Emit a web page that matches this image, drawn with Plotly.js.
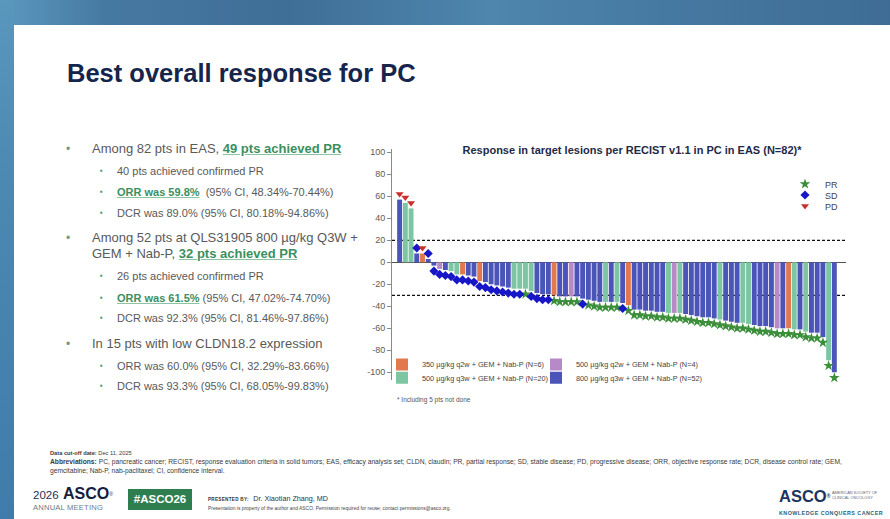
<!DOCTYPE html>
<html>
<head>
<meta charset="utf-8">
<script src="https://cdn.plot.ly/plotly-3.0.1.min.js"></script>
<style>
  html, body { margin:0; padding:0; }
  body { width:890px; height:519px; overflow:hidden; background:#ffffff; position:relative;
         font-family:"Liberation Sans", Arial, sans-serif; }
  .abs { position:absolute; white-space:nowrap; }
  .topband { position:absolute; left:0; top:0; width:890px; height:25px;
     background:linear-gradient(90deg,#5b98bf 0%,#4679a2 12%,#3f6e96 32%,#4e86ad 55%,#4679a1 75%,#3e6c94 100%); }
  .leftband { position:absolute; left:0; top:0; width:14px; height:519px;
     background:linear-gradient(180deg,#5a97bd 0%,#4a87b1 40%,#3f7cab 100%); }
  .main { font-size:13px; line-height:16px; color:#595959; }
  .sub { font-size:11px; line-height:14px; color:#595959; }
  .g { color:#3b8f5e; font-weight:bold; text-decoration:underline; text-decoration-color:#8cc4a3; }
  .bul { color:#6f9c80; font-size:12px; }
  .sbul { color:#4d9a6b; font-size:8px; }
  .foot { font-size:6.7px; line-height:9px; color:#3a3a3a; }
</style>
</head>
<body>
<div class="topband"></div>
<div class="leftband"></div>

<div class="abs" style="left:67px; top:58px; font-size:25.5px; line-height:30px; font-weight:bold; color:#15254b;">Best overall response for PC</div>

<div id="bullets"></div>

<div id="chart" style="position:absolute; left:340px; top:135px; width:520px; height:280px;"></div>

<div class="abs" style="left:397px; top:396px; font-size:6.5px; color:#555;">* Including 5 pts not done</div>

<div class="abs" style="left:50px; top:449px; font-size:5.7px; line-height:9px; color:#3a3a3a;"><b>Data cut-off date:</b> Dec 11, 2025</div>
<div class="abs foot" style="left:50px; top:457px;"><b>Abbreviations:</b> PC, pancreatic cancer; RECIST, response evaluation criteria in solid tumors; EAS, efficacy analysis set; CLDN, claudin; PR, partial response; SD, stable disease; PD, progressive disease; ORR, objective response rate; DCR, disease control rate; GEM,<br>gemcitabine; Nab-P, nab-paclitaxel; CI, confidence interval.</div>

<div class="abs" style="left:33px; top:485px; line-height:18px; color:#1d2f55;"><span style="font-size:11.5px;">2026</span> <span style="font-size:16px; font-weight:bold; color:#14213d;">ASCO</span><span style="font-size:5px; vertical-align:top;">®</span></div>
<div class="abs" style="left:33px; top:503px; font-size:7.6px; line-height:9px; color:#6c7a88; letter-spacing:0.2px;">ANNUAL MEETING</div>
<div class="abs" style="left:128px; top:489px; width:64px; height:21px; background:#2f7e50; color:#fff; font-weight:bold; font-size:11.5px; line-height:21px; text-align:center;">#ASCO26</div>
<div class="abs" style="left:208px; top:491px; line-height:10px; color:#333;"><span style="font-size:4.6px; font-weight:bold; letter-spacing:0.3px;">PRESENTED BY:</span> <span style="font-size:7.2px;">Dr. Xiaotian Zhang, MD</span></div>
<div class="abs" style="left:208px; top:505px; font-size:4.9px; line-height:8px; color:#444;">Presentation is property of the author and ASCO. Permission required for reuse; contact permissions@asco.org.</div>

<div class="abs" style="left:779px; top:486px; font-size:16.5px; line-height:20px; font-weight:bold; color:#1b3560;">ASCO<span style="font-size:5px; vertical-align:top;">®</span></div>
<div class="abs" style="left:832px; top:490px; font-size:3.9px; line-height:5px; color:#667;">AMERICAN SOCIETY OF<br>CLINICAL ONCOLOGY</div>
<div class="abs" style="left:779px; top:509px; font-size:5.4px; line-height:8px; font-weight:bold; letter-spacing:0.45px; color:#2a5f7d;">KNOWLEDGE CONQUERS CANCER</div>

<script>
// ---------------- slide bullet text ----------------
var bulletLines = [
  {y:149,   lvl:0, html:'Among 82 pts in EAS, <span class="g">49 pts achieved PR</span>'},
  {y:170.7, lvl:1, html:'40 pts achieved confirmed PR'},
  {y:191.7, lvl:1, html:'<span class="g">ORR was 59.8%</span>&nbsp; (95% CI, 48.34%-70.44%)'},
  {y:213.3, lvl:1, html:'DCR was 89.0% (95% CI, 80.18%-94.86%)'},
  {y:238.3, lvl:0, html:'Among 52 pts at QLS31905 800 µg/kg Q3W +'},
  {y:254.3, lvl:2, html:'GEM + Nab-P, <span class="g">32 pts achieved PR</span>'},
  {y:276,   lvl:1, html:'26 pts achieved confirmed PR'},
  {y:297.7, lvl:1, html:'<span class="g">ORR was 61.5%</span> (95% CI, 47.02%-74.70%)'},
  {y:317.7, lvl:1, html:'DCR was 92.3% (95% CI, 81.46%-97.86%)'},
  {y:344,   lvl:0, html:'In 15 pts with low CLDN18.2 expression'},
  {y:365.7, lvl:1, html:'ORR was 60.0% (95% CI, 32.29%-83.66%)'},
  {y:385.7, lvl:1, html:'DCR was 93.3% (95% CI, 68.05%-99.83%)'}
];
var bh = '';
bulletLines.forEach(function(l){
  if (l.lvl === 1) {
    bh += '<div class="abs sbul" style="left:100px; top:' + (l.y-7) + 'px; line-height:14px;">&#9642;</div>';
    bh += '<div class="abs sub" style="left:117px; top:' + (l.y-7) + 'px;">' + l.html + '</div>';
  } else {
    if (l.lvl === 0) bh += '<div class="abs bul" style="left:66px; top:' + (l.y-8) + 'px; line-height:16px;">&#8226;</div>';
    bh += '<div class="abs main" style="left:92px; top:' + (l.y-8) + 'px;">' + l.html + '</div>';
  }
});
document.getElementById('bullets').innerHTML = bh;

// ---------------- chart data ----------------
// best % change from baseline in target lesions, per patient (sorted)
var changePct = [57, 54, 49, 8, 8, 3, -3, -6, -7, -8,
                 -11, -11, -12, -13, -17, -18, -20, -21, -22, -23,
                 -24, -24, -24, -26, -28, -29, -29, -30, -31, -31,
                 -31, -31, -33, -34, -35, -36, -36, -36, -36, -37,
                 -39, -43, -43, -44, -44, -45, -45, -46, -46, -46,
                 -47, -48, -49, -50, -50, -51, -52, -53, -54, -55,
                 -55, -56, -57, -58, -58, -59, -60, -60, -60, -61,
                 -61, -63, -64, -64, -68, -89, -100];
// dose group per patient: O=350 q2w, P=500 q2w, G=500 q3w, B=800 q3w
var doseGroup = ['B','G','G','B','O','B','B','P','B','G',
                 'G','O','B','B','O','B','B','B','B','B',
                 'G','G','G','G','B','B','B','O','B','B',
                 'P','B','B','B','B','B','G','B','G','B',
                 'O','B','B','B','B','B','B','G','P','G',
                 'B','B','B','B','B','B','G','B','B','B',
                 'G','G','B','B','B','B','P','B','O','G',
                 'B','G','B','B','B','G','B'];
// best overall response per patient
var bestResponse = ['PD','PD','PD','SD','PD','SD','SD','SD','SD','SD',
                    'SD','SD','SD','SD','SD','SD','SD','SD','SD','SD',
                    'SD','SD','PR','SD','SD','SD','SD','PR','PR','PR',
                    'PR','PR','SD','PR','PR','PR','PR','PR','PR','SD',
                    'PR','PR','PR','PR','PR','PR','PR','PR','PR','PR',
                    'PR','PR','PR','PR','PR','PR','PR','PR','PR','PR',
                    'PR','PR','PR','PR','PR','PR','PR','PR','PR','PR',
                    'PR','PR','PR','PR','PR','PR','PR'];

var groupKeys   = ['O','P','G','B'];
var groupNames  = ['350 µg/kg q2w + GEM + Nab-P (N=6)', '500 µg/kg q2w + GEM + Nab-P (N=4)',
                   '500 µg/kg q3w + GEM + Nab-P (N=20)', '800 µg/kg q3w + GEM + Nab-P (N=52)'];
var groupColors = ['#e2784e', '#b889c7', '#7cc6a4', '#4b55b9'];

var respKeys    = ['PR', 'SD', 'PD'];
var respSymbols = ['star', 'diamond', 'triangle-down'];
var respColors  = ['#3c8f3a', '#1717c8', '#c9302c'];
var respSizes   = [8, 7, 7];
var markerOffset = 5; // marker drawn just beyond end of bar

var patientIdx = changePct.map(function(v,i){ return i+1; });

// page geometry of the chart
var W = 520, H = 280, ML = 52, MR = 14, MT = 14, MB = 35;
var DIVX = 340, DIVY = 135;
var plotW = W - ML - MR, plotH = H - MT - MB;
function px2xp(px){ return (px - (DIVX + ML)) / plotW; }
function py2yp(py){ return ((DIVY + MT + plotH) - py) / plotH; }

// one single-entry legend per key, placed where the reference has it
// (symbol centre in page px; plotly puts symbol 20px right of the legend's left edge, 14.5px below its top)
var groupLegendPos = [[402, 364.5], [556, 364.5], [402, 377.7], [556, 377.7]];
var respLegendPos  = [[805, 184], [805, 195], [805, 206]];
var groupLegendIds = ['legend4', 'legend5', 'legend6', 'legend7'];
var respLegendIds  = ['legend', 'legend2', 'legend3'];

var traces = [];
groupKeys.forEach(function(g, k){
  var xs = [], ys = [];
  patientIdx.forEach(function(p, i){ if (doseGroup[i] === g) { xs.push(p); ys.push(changePct[i]); } });
  traces.push({
    type:'bar', x:xs, y:ys, width:0.86, name:groupNames[k],
    marker:{color:groupColors[k], line:{width:0}},
    legend:groupLegendIds[k], hoverinfo:'x+y'
  });
});
respKeys.forEach(function(r, k){
  var xs = [], ys = [];
  patientIdx.forEach(function(p, i){
    if (bestResponse[i] === r) {
      xs.push(p);
      ys.push(changePct[i] >= 0 ? changePct[i] + markerOffset : changePct[i] - markerOffset);
    }
  });
  traces.push({
    type:'scatter', mode:'markers', x:xs, y:ys, name:r, cliponaxis:false,
    marker:{symbol:respSymbols[k], color:respColors[k], size:respSizes[k], line:{width:0}},
    legend:respLegendIds[k]
  });
});

var yTicks = [-100,-80,-60,-40,-20,0,20,40,60,80,100];
var thresholds = [20, -30];

var layout = {
  width:W, height:H,
  margin:{l:ML, r:MR, t:MT, b:MB},
  paper_bgcolor:'rgba(0,0,0,0)', plot_bgcolor:'rgba(0,0,0,0)',
  font:{family:'"Liberation Sans", Arial, sans-serif', color:'#444'},
  barmode:'overlay',
  showlegend:true,
  title:{text:'<b>Response in target lesions per RECIST v1.1 in PC in EAS (N=82)*</b>',
         font:{size:11, color:'#1f2a46'}, xref:'container', x:(632-DIVX)/W, xanchor:'center',
         yref:'container', y:1 - (150-DIVY)/H, yanchor:'middle'},
  xaxis:{visible:false, range:[-0.33, 79.04], fixedrange:true},
  yaxis:{range:[-107, 103], tickvals:yTicks, ticktext:yTicks.map(String),
         ticks:'outside', ticklen:4, tickcolor:'#8a8a8a', tickwidth:1,
         showline:true, linecolor:'#8a8a8a', linewidth:1, showgrid:false,
         zeroline:true, zerolinecolor:'#555', zerolinewidth:1,
         tickfont:{size:9, color:'#5a5a5a'}, fixedrange:true},
  shapes: thresholds.map(function(t){
    return {type:'line', xref:'paper', x0:0, x1:1, yref:'y', y0:t, y1:t, layer:'below',
            line:{color:'#111', width:1.2, dash:'3px,2px'}};
  })
};
function legendAt(pos, size){
  return {x:px2xp(pos[0]-20), xanchor:'left', y:py2yp(pos[1]-14.5), yanchor:'top',
          font:{size:size, color:'#444'}, bgcolor:'rgba(0,0,0,0)', itemwidth:30, borderwidth:0};
}
respLegendIds.forEach(function(id, k){ layout[id] = legendAt(respLegendPos[k], 9); });
groupLegendIds.forEach(function(id, k){ layout[id] = legendAt(groupLegendPos[k], 7.3); });

Plotly.newPlot('chart', traces, layout, {displayModeBar:false, staticPlot:true});
</script>
</body>
</html>
